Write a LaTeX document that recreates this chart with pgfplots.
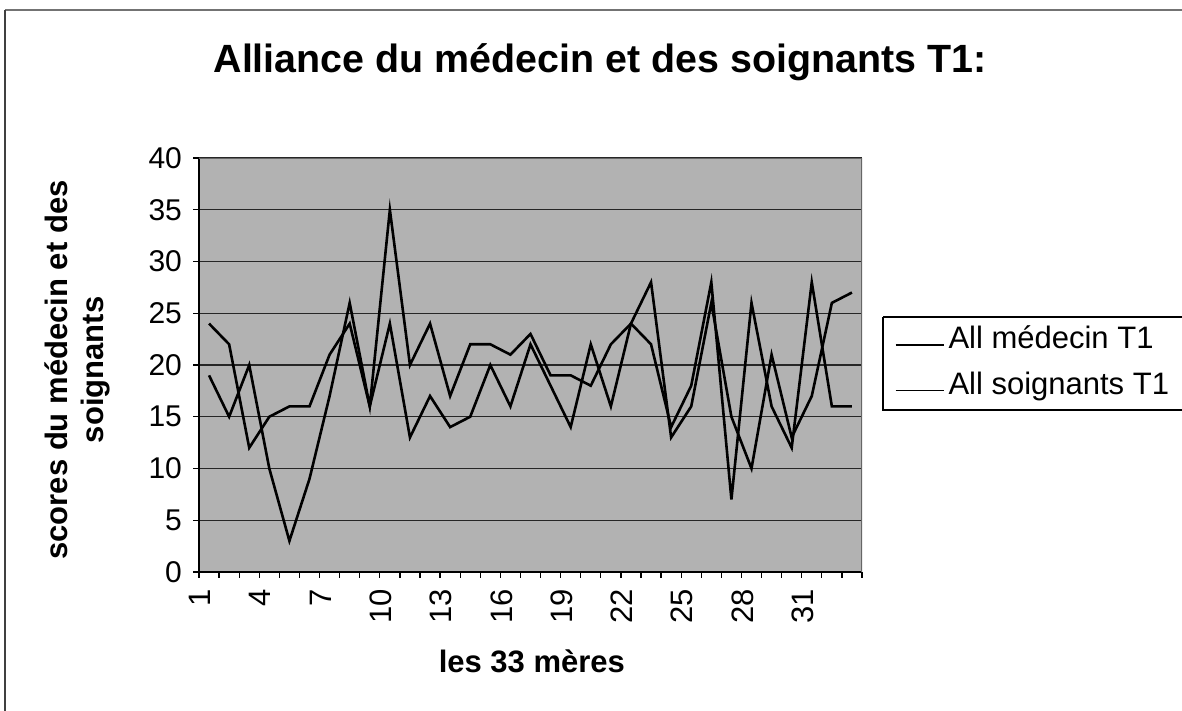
\documentclass[border=0pt]{standalone}
\usepackage{fontspec}
\setmainfont{Liberation Sans}
\usepackage{pgfplots}
\pgfplotsset{compat=1.18}
\begin{document}
\begin{tikzpicture}
\useasboundingbox (0,0) rectangle (591pt,355.5pt);
\fill[white] (0,0) rectangle (591pt,355.5pt);
\draw[black!55, line width=0.8pt] (2.5pt,350.5pt) -- (591pt,350.5pt);
\draw[black!75, line width=0.8pt] (2.5pt,0pt) -- (2.5pt,350.5pt);
\node[font=\bfseries\fontsize{19.7}{24}\selectfont] at (300pt,324.5pt) {Alliance du médecin et des soignants T1:};
\draw[black, line width=0.6pt] (441.5pt,197pt) -- (600pt,197pt);
\draw[black, line width=0.6pt] (441.5pt,197pt) -- (441.5pt,150.5pt) -- (600pt,150.5pt);
\begin{axis}[
  at={(99.5pt,69.5pt)}, anchor=south west,
  width=331.5pt, height=207pt, scale only axis,
  xmin=0.5, xmax=33.5, ymin=0, ymax=40,
  axis background/.style={fill=black!30},
  axis x line*=bottom, axis y line*=left,
  axis line style={black, line width=0.8pt, -},
  tick align=outside, major tick length=3pt,
  tick style={black, line width=0.6pt},
  xtick={0.5,1.5,2.5,3.5,4.5,5.5,6.5,7.5,8.5,9.5,10.5,11.5,12.5,13.5,14.5,15.5,16.5,17.5,18.5,19.5,20.5,21.5,22.5,23.5,24.5,25.5,26.5,27.5,28.5,29.5,30.5,31.5,32.5,33.5},
  xticklabels={},
  extra x ticks={0.55,3.55,6.55,9.55,12.55,15.55,18.55,21.55,24.55,27.55,30.55},
  extra x tick labels={1,4,7,10,13,16,19,22,25,28,31},
  extra x tick style={major tick length=0pt, xticklabel style={rotate=90, anchor=east, xshift=-5pt, font=\fontsize{15.5}{18}\selectfont}},
  ytick={0,5,...,40},
  ymajorgrids, grid style={black!85, line width=0.6pt},
  yticklabel style={font=\fontsize{15}{18}\selectfont, xshift=-2pt},
  /pgf/number format/assume math mode=true,
  xlabel={les 33 mères},
  xlabel style={font=\bfseries\fontsize{15.5}{18}\selectfont, at={(axis description cs:0.502,-0.215)}, anchor=center},
  ylabel={scores du médecin et des\\soignants},
  ylabel style={align=center, font=\bfseries\fontsize{15.5}{18}\selectfont, at={(axis description cs:-0.184,0.488)}, anchor=center},
  legend style={at={(axis description cs:1.04,0.615)}, anchor=north west, draw=none, fill=none, font=\fontsize{15.5}{18}\selectfont, row sep=6pt},
  legend cell align=left,
  legend image code/.code={\draw[black, line width=0.8pt] (0pt,-0.3em) -- (24pt,-0.3em);},
]
\addplot[black, line width=1.3pt, mark=none] coordinates {
(1,24) (2,22) (3,12) (4,15) (5,16) (6,16) (7,21) (8,24) (9,16) (10,24) (11,13)
(12,17) (13,14) (14,15) (15,20) (16,16) (17,22) (18,18) (19,14) (20,22) (21,16)
(22,24) (23,28) (24,13) (25,16) (26,26) (27,15) (28,10) (29,21) (30,13) (31,17)
(32,26) (33,27)};
\addlegendentry{All médecin T1}
\addplot[black, line width=1.3pt, mark=none] coordinates {
(1,19) (2,15) (3,20) (4,10) (5,3) (6,9) (7,17) (8,26) (9,16) (10,35) (11,20)
(12,24) (13,17) (14,22) (15,22) (16,21) (17,23) (18,19) (19,19) (20,18) (21,22)
(22,24) (23,22) (24,14) (25,18) (26,28) (27,7) (28,26) (29,16) (30,12) (31,28)
(32,16) (33,16)};
\addlegendentry{All soignants T1}
\draw[black!60, line width=0.6pt] (axis cs:0.5,40) -- (axis cs:33.5,40) -- (axis cs:33.5,0);
\end{axis}
\end{tikzpicture}
\end{document}
